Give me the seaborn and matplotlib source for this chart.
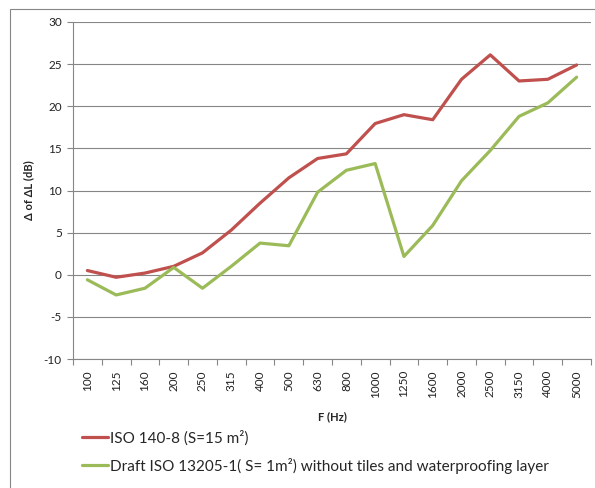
import numpy as np
import pandas as pd

import seaborn as sns
import matplotlib.pyplot as plt
from matplotlib.patches import Rectangle
sns.set_theme(style="white")
plt.rcParams['font.family'] = ['Lato', 'DejaVu Sans']
plt.rcParams['axes.unicode_minus'] = False

freqs = ['100', '125', '160', '200', '250', '315', '400', '500', '630', '800',
         '1000', '1250', '1600', '2000', '2500', '3150', '4000', '5000']
iso_140 = [0.5, -0.3, 0.2, 1.0, 2.6, 5.3, 8.5, 11.5, 13.8, 14.35,
           17.95, 19.0, 18.4, 23.2, 26.1, 23.0, 23.2, 24.9]
draft_13205 = [-0.6, -2.4, -1.6, 0.87, -1.6, 1.0, 3.76, 3.44, 9.8, 12.4,
               13.2, 2.17, 5.85, 11.15, 14.75, 18.8, 20.4, 23.45]
names = ['ISO 140-8 (S=15 m²)',
         'Draft ISO 13205-1( S= 1m²) without tiles and waterproofing layer']
colors = ['#C0504D', '#9BBB59']

dane = pd.concat([
    pd.DataFrame({'F': freqs, 'val': iso_140, 'serie': names[0]}),
    pd.DataFrame({'F': freqs, 'val': draft_13205, 'serie': names[1]}),
])

fig = plt.figure(figsize=(5.95, 4.88), dpi=100)
W, H = 595, 488
ax = fig.add_axes([73 / W, 1 - 359 / H, (591 - 73) / W, (359 - 22) / H])

sns.lineplot(data=dane, x='F', y='val', hue='serie', palette=colors,
             linewidth=2.3, ax=ax, legend=False, sort=False)

ax.set_xlim(-0.5, len(freqs) - 0.5)
ax.set_ylim(-10, 30)
ax.set_yticks(np.arange(-10, 31, 5))
ax.set_xticks(range(len(freqs)))
ax.set_xticklabels(freqs, rotation=90, fontsize=8.5, color='#222222')
ax.set_xticks(np.arange(-0.5, len(freqs), 1), minor=True)
ax.tick_params(axis='x', which='major', length=0, pad=8)
ax.tick_params(axis='x', which='minor', length=4, color='#868686', width=0.8, direction='out', bottom=True)
ax.tick_params(axis='y', length=4, color='#868686', width=0.8, direction='out', left=True,
               labelsize=8.5, labelcolor='#222222', pad=4)
ax.yaxis.grid(True, color='#868686', linewidth=0.8)
ax.xaxis.grid(False)
for s in ['top', 'right']:
    ax.spines[s].set_visible(False)
for s in ['left', 'bottom']:
    ax.spines[s].set_color('#868686')
    ax.spines[s].set_linewidth(0.8)

ax.set_xlabel('F (Hz)', fontsize=8, fontweight='bold')
ax.xaxis.set_label_coords(0.5, -0.155)
ax.set_ylabel('Δ of ΔL (dB)', fontsize=8, fontweight='bold')
ax.yaxis.set_label_coords(-0.075, 0.5)

handles = [plt.Line2D([], [], color=c, linewidth=2.3) for c in colors]
fig.legend(handles, names, loc='upper left', bbox_to_anchor=(76 / W, 1 - 424 / H),
           frameon=False, fontsize=11, handlelength=1.7, handletextpad=0.15,
           labelspacing=0.8, borderaxespad=0)

fig.patches.append(Rectangle((10 / W, -0.1), 1.2, 1 - 9 / H + 0.1, transform=fig.transFigure,
                             fill=False, edgecolor='#868686', linewidth=0.8))

fig.savefig('out.png', dpi=100)
